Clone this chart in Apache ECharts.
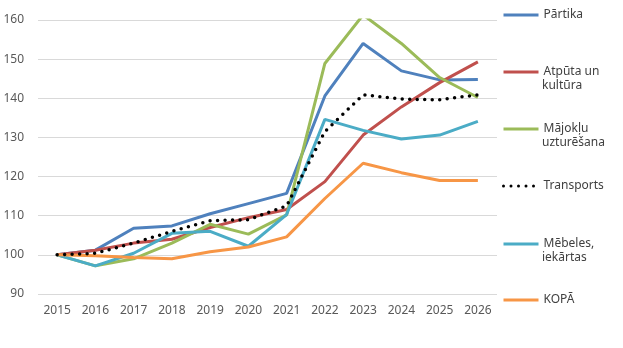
<!DOCTYPE html>
<html><head><meta charset="utf-8">
<script src="https://cdn.jsdelivr.net/npm/echarts@6/dist/echarts.min.js"></script>
<style>html,body{margin:0;padding:0;background:#fff}#c{width:623px;height:348px}</style>
</head><body><div id="c"></div>
<script>
const years = ['2015','2016','2017','2018','2019','2020','2021','2022','2023','2024','2025','2026'];
const yTicks = [90,100,110,120,130,140,150,160];
const names = ['Pārtika','Atpūta un kultūra','Mājokļu uzturēšana','Transports','Mēbeles, iekārtas','KOPĀ'];
const legendLine1 = ['Pārtika','Atpūta un','Mājokļu','Transports','Mēbeles,','KOPĀ'];
const legendLine2 = ['','kultūra','uzturēšana','','iekārtas',''];
const partika   = [100,101.2,106.8,107.4,110.5,113.1,115.7,140.6,154.0,147.0,144.7,144.8];
const atputa    = [100,101.2,103.0,104.0,107.0,109.5,111.6,118.7,130.6,137.8,144.0,149.3];
const majoklu   = [100,97.2,99.0,103.0,107.8,105.3,110.2,148.9,161.3,154.0,145.3,140.2];
const transports= [100,100.4,103.0,106.0,108.7,109.0,112.5,131.5,140.9,139.8,139.6,140.9];
const mebeles   = [100,97.2,100.4,105.5,106.0,102.2,110.3,134.6,131.8,129.6,130.6,134.1];
const kopa      = [100,99.8,99.3,99.0,100.8,102.0,104.6,114.4,123.4,121.0,119.0,119.0];
const seriesData = [partika, atputa, majoklu, transports, mebeles, kopa];
const colors = ['#4F81BD','#C0504D','#9BBB59','#000000','#4BACC6','#F79646'];
const legendCenters = [15, 72, 129, 186, 244, 300];
const FONT = '"Noto Sans", "Liberation Sans", sans-serif';

const chart = echarts.init(document.getElementById('c'));
const series = names.map((n, i) => ({
  name: n, type: 'line', data: seriesData[i], symbol: 'none', smooth: false,
  z: i === 3 ? 5 : 3,
  lineStyle: i === 3
    ? {color: colors[i], width: 3.5, type: [0, 7.5], cap: 'round'}
    : {color: colors[i], width: 3},
  itemStyle: {color: colors[i]}
}));
const legends = names.map((n, i) => ({
  data: [n], left: 502, top: legendCenters[i] - 7, orient: 'vertical',
  itemWidth: 35, itemHeight: 14, itemGap: 0, padding: 0,
  itemStyle: {opacity: 0},
  lineStyle: {width: 3},
  formatter: () => legendLine1[i],
  textStyle: {fontFamily: FONT, fontSize: 12, color: '#404040', lineHeight: 14}
}));
const graphics = legendLine2.map((t, i) => t ? {
  type: 'text', left: 542, top: legendCenters[i] + 16 - 8,
  style: {text: t, fontFamily: FONT, fontSize: 12, fill: '#404040'}
} : null).filter(Boolean);
chart.setOption({
  animation: false,
  backgroundColor: '#fff',
  grid: {left: 38, right: 126, top: 20, bottom: 54, containLabel: false},
  legend: legends,
  graphic: graphics,
  xAxis: {
    type: 'category', data: years, boundaryGap: true,
    axisLine: {show: false}, axisTick: {show: false},
    axisLabel: {fontFamily: FONT, fontSize: 12, color: '#595959', margin: 11}
  },
  yAxis: {
    type: 'value', min: 90, max: 160, interval: 10,
    axisLine: {show: false}, axisTick: {show: false},
    axisLabel: {fontFamily: FONT, fontSize: 12, color: '#595959', margin: 14},
    splitLine: {lineStyle: {color: '#D9D9D9', width: 1}}
  },
  series: series
});
</script></body></html>
